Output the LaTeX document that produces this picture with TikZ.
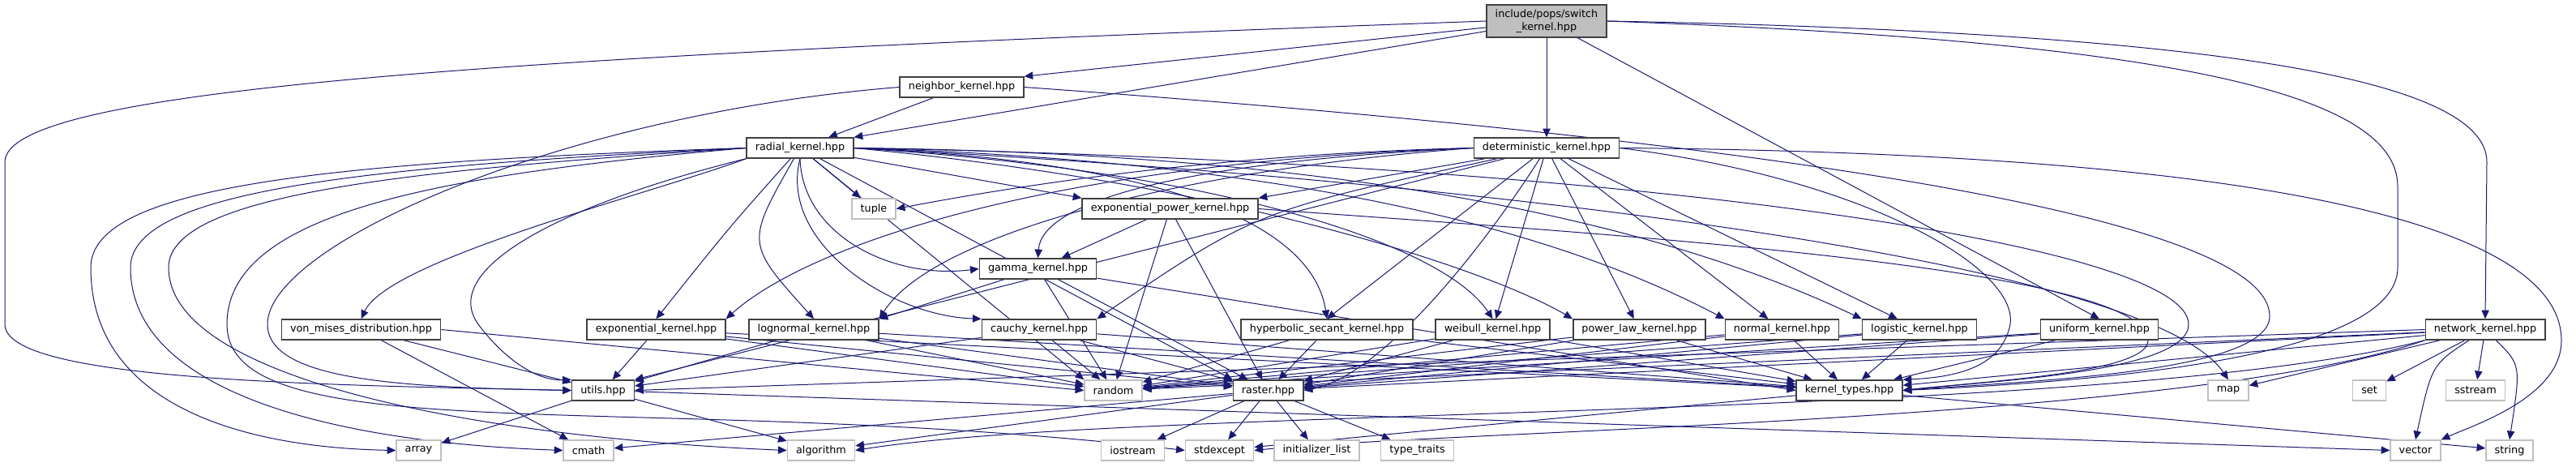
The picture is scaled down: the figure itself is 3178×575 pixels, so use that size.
\documentclass[tikz,border=0pt]{standalone}
\usepackage{fontspec}
\setmainfont{DejaVu Sans}
\usetikzlibrary{positioning,arrows.meta}
\definecolor{edgeblue}{HTML}{191970}
\definecolor{sysgray}{HTML}{BFBFBF}
\definecolor{hdrgray}{HTML}{404040}
\pgfdeclarelayer{background}
\pgfsetlayers{background,main}

\begin{document}
\begin{tikzpicture}[
			x=0.75pt, y=-0.75pt,
			hdr/.style={rectangle, draw=hdrgray, line width=1.1pt, fill=white, minimum height=18.75pt, inner xsep=8pt, inner ysep=0pt, font=\fontsize{9.6}{11.5}\selectfont},
			sysbox/.style={hdr, draw=sysgray},
			rootbox/.style={hdr, fill=sysgray, minimum height=30pt, align=center},
			dep/.style={-{Triangle[length=8pt,width=7pt]}, draw=edgeblue, line width=0.75pt}
		]
		\useasboundingbox (0,0) rectangle (3178,575);

		\node[rootbox] (switchk) at (1908,26) {include/pops/switch\\\_kernel.hpp};
		\node[hdr] (neighbor) at (1186.5,107.5) {neighbor\_kernel.hpp};
		\node[hdr] (radial) at (987,182.5) {radial\_kernel.hpp};
		\node[hdr] (determ) at (1908,182.5) {deterministic\_kernel.hpp};
		\node[sysbox] (tuple) at (1078,257.5) {tuple};
		\node[hdr] (exppower) at (1443.5,257.5) {exponential\_power\_kernel.hpp};
		\node[hdr] (gamma) at (1280.5,331.5) {gamma\_kernel.hpp};

		\node[hdr] (vonmises) at (445.5,406.5) {von\_mises\_distribution.hpp};
		\node[hdr] (expk) at (809.5,406.5) {exponential\_kernel.hpp};
		\node[hdr] (lognormal) at (1004,406.5) {lognormal\_kernel.hpp};
		\node[hdr] (cauchy) at (1282,406.5) {cauchy\_kernel.hpp};
		\node[hdr] (hypsec) at (1637,406.5) {hyperbolic\_secant\_kernel.hpp};
		\node[hdr] (weibull) at (1841.5,406.5) {weibull\_kernel.hpp};
		\node[hdr] (powerlaw) at (2022.5,406.5) {power\_law\_kernel.hpp};
		\node[hdr] (normal) at (2198.5,406.5) {normal\_kernel.hpp};
		\node[hdr] (logistic) at (2368,406.5) {logistic\_kernel.hpp};
		\node[hdr] (uniform) at (2590,406.5) {uniform\_kernel.hpp};
		\node[hdr] (network) at (3066,406.5) {network\_kernel.hpp};

		\node[hdr] (utils) at (744,481.5) {utils.hpp};
		\node[sysbox] (random) at (1373.5,481.5) {random};
		\node[hdr] (raster) at (1564.5,481.5) {raster.hpp};
		\node[hdr] (ktypes) at (2281.5,481.5) {kernel\_types.hpp};
		\node[sysbox] (map) at (2749,481.5) {map};
		\node[sysbox] (set) at (2923,481.5) {set};
		\node[sysbox] (sstream) at (3054,481.5) {sstream};

		\node[sysbox] (array) at (516.5,555.5) {array};
		\node[sysbox] (cmath) at (726,555.5) {cmath};
		\node[sysbox] (algorithm) at (1013,555.5) {algorithm};
		\node[sysbox] (iostream) at (1397.5,555.5) {iostream};
		\node[sysbox] (stdexcept) at (1504.5,555.5) {stdexcept};
		\node[sysbox] (initlist) at (1624.5,555.5) {initializer\_list};
		\node[sysbox] (typetraits) at (1748.5,555.5) {type\_traits};
		\node[sysbox] (vector) at (2980,555.5) {vector};
		\node[sysbox] (string) at (3096,555.5) {string};

		\begin{pgfonlayer}{background}
		% switch_kernel.hpp
		\draw[dep] (switchk.west) .. controls (600,70) and (6,110) .. (6,200) -- (6,400) .. controls (6,470) and (400,475) .. (utils.west);
		\draw[dep] (switchk) -- (neighbor.north east);
		\draw[dep] (switchk) -- (radial.north east);
		\draw[dep] (switchk) -- (determ);
		\draw[dep] (switchk) -- (uniform.north);
		\draw[dep] (switchk.east) .. controls (2750,40) and (3068,100) .. (3068,200) -- (network.north);
		\draw[dep] (switchk.east) .. controls (2650,50) and (2958,110) .. (2958,230) -- (2958,330) .. controls (2958,440) and (2600,470) .. (ktypes.east);

		% neighbor_kernel.hpp
		\draw[dep] (neighbor) -- (radial);
		\draw[dep] (neighbor.west) .. controls (700,140) and (330,300) .. (330,400) .. controls (330,470) and (500,478) .. (utils.west);
		\draw[dep] (neighbor.east) .. controls (2000,160) and (2800,250) .. (2800,390) .. controls (2800,460) and (2500,470) .. (ktypes.east);

		% radial_kernel.hpp
		\draw[dep] (radial) -- (tuple);
		\draw[dep] (radial) -- (exppower.north west);
		\draw[dep] (radial.south) .. controls (990,290) and (1100,345) .. (gamma.west);
		\draw[dep] (radial.south west) .. controls (800,240) and (480,320) .. (vonmises.north);
		\draw[dep] (radial.south west) .. controls (700,250) and (540,330) .. (590,400) .. controls (620,440) and (660,470) .. (utils.north west);
		\draw[dep] (radial) .. controls (900,280) .. (expk.north);
		\draw[dep] (radial) .. controls (920,300) .. (lognormal.north);
		\draw[dep] (radial.south) .. controls (960,300) and (1100,390) .. (cauchy.north west);
		\draw[dep] (radial.east) .. controls (1450,200) and (1620,280) .. (hypsec.north);
		\draw[dep] (radial.east) .. controls (1500,210) and (1780,300) .. (weibull.north);
		\draw[dep] (radial.east) .. controls (1550,230) and (1850,340) .. (powerlaw.north west);
		\draw[dep] (radial.east) .. controls (1650,200) and (1950,300) .. (normal.north west);
		\draw[dep] (radial.east) .. controls (1750,190) and (2100,300) .. (logistic.north west);
		\draw[dep] (radial) -- (random.north west);
		\draw[dep] (radial) -- (raster.north west);
		\draw[dep] (radial.east) .. controls (2000,200) and (2700,300) .. (2700,400) .. controls (2700,460) and (2450,470) .. (ktypes.east);
		\draw[dep] (radial.east) .. controls (1800,220) and (2650,320) .. (map.north);
		\draw[dep] (radial.west) .. controls (400,200) and (112,230) .. (112,330) .. controls (112,500) and (300,552) .. (array.west);
		\draw[dep] (radial.west) .. controls (450,205) and (161,235) .. (161,330) .. controls (161,480) and (400,545) .. (cmath.west);
		\draw[dep] (radial.west) .. controls (500,210) and (208,240) .. (208,330) .. controls (208,470) and (600,540) .. (algorithm.west);
		\draw[dep] (radial.west) .. controls (550,215) and (280,260) .. (280,400) .. controls (280,560) and (800,480) .. (stdexcept.west);

		% deterministic_kernel.hpp
		\draw[dep] (determ.west) .. controls (1500,190) and (1250,230) .. (tuple.east);
		\draw[dep] (determ) -- (exppower.north east);
		\draw[dep] (determ.west) .. controls (1450,200) and (1285,250) .. (gamma.north);
		\draw[dep] (determ.west) .. controls (1300,200) and (1000,300) .. (expk.north east);
		\draw[dep] (determ.west) .. controls (1450,210) and (1150,290) .. (lognormal.north east);
		\draw[dep] (determ) .. controls (1550,260) .. (cauchy.north east);
		\draw[dep] (determ) -- (hypsec.north);
		\draw[dep] (determ) -- (weibull);
		\draw[dep] (determ) -- (powerlaw);
		\draw[dep] (determ) -- (normal);
		\draw[dep] (determ) -- (logistic);
		\draw[dep] (determ) -- (utils.north east);
		\draw[dep] (determ) .. controls (1820,320) and (1700,465) .. (raster.east);
		\draw[dep] (determ.east) .. controls (2300,220) and (2490,330) .. (2480,400) .. controls (2470,450) and (2420,465) .. (ktypes.north east);
		\draw[dep] (determ.east) .. controls (2900,190) and (3160,300) .. (3160,420) .. controls (3160,490) and (3050,525) .. (vector.north east);

		% exponential_power_kernel.hpp
		\draw[dep] (exppower) -- (gamma);
		\draw[dep] (exppower) -- (random);
		\draw[dep] (exppower) -- (raster);
		\draw[dep] (exppower.east) .. controls (2000,290) and (2650,330) .. (2650,420) .. controls (2650,460) and (2450,470) .. (ktypes.east);

		% gamma_kernel.hpp
		\draw[dep] (gamma) -- (lognormal.north east);
		\draw[dep] (gamma) -- (random);
		\draw[dep] (gamma) -- (raster);
		\draw[dep] (gamma) -- (ktypes.west);

		% row of kernels
		\draw[dep] (vonmises) -- (utils);
		\draw[dep] (vonmises.east) -- (random.west);
		\draw[dep] (vonmises) -- (cmath);
		\draw[dep] (expk) -- (utils);
		\draw[dep] (expk) -- (random);
		\draw[dep] (expk) -- (raster);
		\draw[dep] (expk) -- (ktypes);
		\draw[dep] (lognormal) -- (utils);
		\draw[dep] (lognormal) -- (random);
		\draw[dep] (lognormal) -- (raster);
		\draw[dep] (lognormal) -- (ktypes);
		\draw[dep] (cauchy) -- (utils);
		\draw[dep] (cauchy) -- (random);
		\draw[dep] (cauchy) -- (raster);
		\draw[dep] (cauchy) -- (ktypes);
		\draw[dep] (hypsec) -- (random);
		\draw[dep] (hypsec) -- (raster);
		\draw[dep] (hypsec) -- (ktypes);
		\draw[dep] (weibull) -- (random);
		\draw[dep] (weibull) -- (raster);
		\draw[dep] (weibull) -- (ktypes);
		\draw[dep] (powerlaw) -- (random);
		\draw[dep] (powerlaw) -- (raster);
		\draw[dep] (powerlaw) -- (ktypes);
		\draw[dep] (normal) -- (random);
		\draw[dep] (normal) -- (raster);
		\draw[dep] (normal) -- (ktypes);
		\draw[dep] (logistic) -- (random);
		\draw[dep] (logistic) -- (raster);
		\draw[dep] (logistic) -- (ktypes);
		\draw[dep] (uniform) -- (random);
		\draw[dep] (uniform) -- (raster);
		\draw[dep] (uniform) -- (ktypes);

		% network_kernel.hpp
		\draw[dep] (network.west) -- (utils.east);
		\draw[dep] (network) -- (random);
		\draw[dep] (network) -- (raster);
		\draw[dep] (network) -- (ktypes);
		\draw[dep] (network) -- (map);
		\draw[dep] (network) -- (set);
		\draw[dep] (network) -- (sstream);
		\draw[dep] (network) .. controls (3000,450) .. (vector.north);
		\draw[dep] (network) .. controls (3110,450) .. (string.north);
		\draw[dep] (network.south west) .. controls (2600,520) and (1400,500) .. (algorithm.east);
		\draw[dep] (network.south west) .. controls (2700,520) and (1800,530) .. (stdexcept.east);

		% utils.hpp, raster.hpp, kernel_types.hpp
		\draw[dep] (utils) -- (array);
		\draw[dep] (utils) -- (algorithm);
		\draw[dep] (utils) -- (vector.west);
		\draw[dep] (raster) -- (iostream);
		\draw[dep] (raster) -- (stdexcept);
		\draw[dep] (raster) -- (initlist);
		\draw[dep] (raster) -- (typetraits);
		\draw[dep] (raster) -- (algorithm);
		\draw[dep] (raster) -- (cmath);
		\draw[dep] (ktypes) -- (stdexcept);
		\draw[dep] (ktypes) -- (string);
		\end{pgfonlayer}
	\end{tikzpicture}
\end{document}
